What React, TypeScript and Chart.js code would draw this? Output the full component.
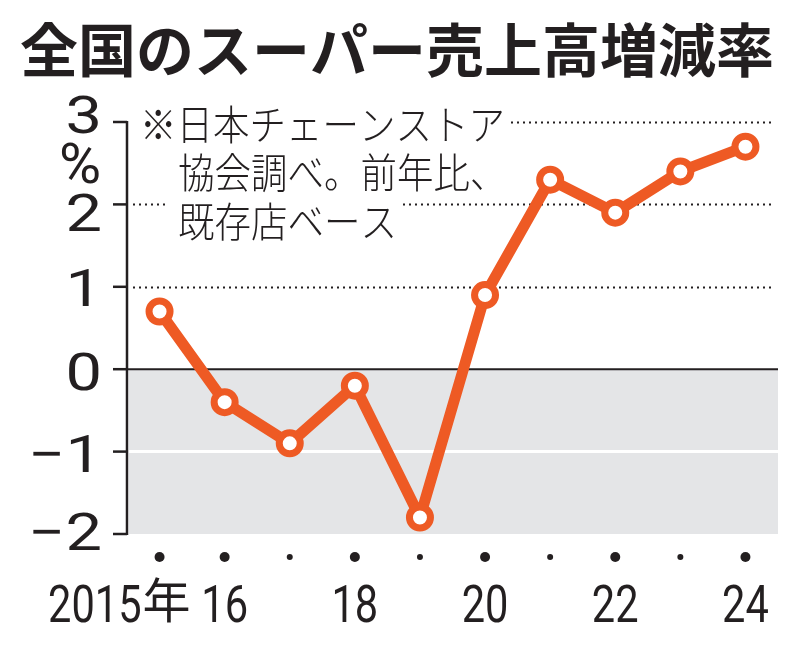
import React, { useEffect, useRef } from "react";
import { Chart, registerables } from "chart.js";

Chart.register(...registerables);

const years = ["2015", "2016", "2017", "2018", "2019", "2020", "2021", "2022", "2023", "2024"];
const values = [0.7, -0.4, -0.9, -0.2, -1.8, 0.9, 2.3, 1.9, 2.4, 2.7];
const xTickLabels = ["2015", "16", "", "18", "", "20", "", "22", "", "24"];
const xMajor = [true, true, false, true, false, true, false, true, false, true];
const yTicks = [3, 2, 1, 0, -1, -2];
const yTickLabels = ["3", "2", "1", "0", "−1", "−2"];
const dottedGrid = [1, 2, 3];
const titleText = "全国のスーパー売上高増減率";
const noteLines = ["※日本チェーンストア", "協会調べ。前年比、", "既存店ベース"];

const ORANGE = "#ee5a24";
const INK = "#231f20";
const GRAY = "#e4e5e7";

const drawPlugin = {
  id: "decor",
  beforeDatasetsDraw(chart: any) {
    const { ctx, chartArea, scales } = chart;
    const { left, right } = chartArea;
    const x = scales.x;
    const y = scales.y;
    const y0 = y.getPixelForValue(0);
    const yMin = y.getPixelForValue(-2);
    ctx.save();
    // gray negative area
    ctx.fillStyle = GRAY;
    ctx.fillRect(left + 2, y0, right - left - 2, yMin - y0);
    // white line at -1
    ctx.strokeStyle = "#ffffff";
    ctx.lineWidth = 3;
    ctx.beginPath();
    ctx.moveTo(left + 2, y.getPixelForValue(-1));
    ctx.lineTo(right, y.getPixelForValue(-1));
    ctx.stroke();
    // dotted grid
    ctx.strokeStyle = INK;
    ctx.lineWidth = 2;
    ctx.setLineDash([2, 4]);
    dottedGrid.forEach((v) => {
      const py = Math.round(y.getPixelForValue(v)) + 0.5;
      ctx.beginPath();
      ctx.moveTo(left + 6, py);
      ctx.lineTo(right - 3, py);
      ctx.stroke();
    });
    ctx.setLineDash([]);
    // zero line
    ctx.lineWidth = 2;
    ctx.beginPath();
    ctx.moveTo(left, y0);
    ctx.lineTo(right, y0);
    ctx.stroke();
    // axis + ticks
    ctx.lineWidth = 2.5;
    ctx.beginPath();
    ctx.moveTo(left, y.getPixelForValue(3) - 1);
    ctx.lineTo(left, yMin + 1);
    ctx.stroke();
    yTicks.forEach((v) => {
      const py = y.getPixelForValue(v);
      ctx.beginPath();
      ctx.moveTo(left - 14, py);
      ctx.lineTo(left, py);
      ctx.stroke();
    });
    // y labels
    ctx.fillStyle = INK;
    ctx.textAlign = "right";
    ctx.textBaseline = "alphabetic";
    const yOff = [11, 27, 19, 21, 20, 16];
    yTicks.forEach((v, i) => {
      const py = y.getPixelForValue(v) + yOff[i];
      ctx.save();
      ctx.translate(102, py);
      ctx.scale(1.25, 1);
      ctx.font = "400 52px Roboto, 'DejaVu Sans', sans-serif";
      ctx.fillText(yTickLabels[i], 0, 0);
      ctx.restore();
    });
    // percent sign
    ctx.save();
    ctx.textAlign = "center";
    ctx.translate(80, 183);
    ctx.scale(1.15, 1.12);
    ctx.font = "400 50px Roboto, 'DejaVu Sans', sans-serif";
    ctx.fillText("%", 0, 0);
    ctx.restore();

    // note with white backing
    const noteY = [124, 172, 221];
    const noteX = [140, 178, 178];
    ctx.font = "300 41px 'Noto Sans CJK JP', sans-serif";
    ctx.textAlign = "left";
    ctx.textBaseline = "middle";
    noteLines.forEach((t, i) => {
      const w = ctx.measureText(t).width * 0.89;
      ctx.fillStyle = "#ffffff";
      ctx.fillRect(noteX[i] - 10, noteY[i] - 22, w + 16, 44);
    });
    ctx.fillStyle = INK;
    noteLines.forEach((t, i) => {
      ctx.save();
      ctx.translate(noteX[i], noteY[i]);
      ctx.scale(0.89, 1);
      ctx.fillText(t, 0, 0);
      ctx.restore();
    });

    // x tick dots and labels
    years.forEach((_, i) => {
      const px = x.getPixelForValue(i);
      ctx.beginPath();
      ctx.arc(px, 557, xMajor[i] ? 5 : 3, 0, Math.PI * 2);
      ctx.fillStyle = INK;
      ctx.fill();
      const lab = xTickLabels[i];
      if (!lab) return;
      ctx.save();
      ctx.textBaseline = "alphabetic";
      if (i === 0) {
        ctx.font = "400 48px 'Noto Sans CJK JP', sans-serif";
        ctx.textAlign = "right";
        ctx.fillText("年", px + 31, 618);
        ctx.translate(px - 18, 622);
        ctx.scale(0.8, 1);
        ctx.font = "400 52px Roboto, sans-serif";
        ctx.textAlign = "right";
        ctx.fillText(lab, 0, 0);
      } else {
        ctx.translate(px, 622);
        ctx.scale(0.8, 1);
        ctx.font = "400 52px Roboto, sans-serif";
        ctx.textAlign = "center";
        ctx.fillText(lab, 0, 0);
      }
      ctx.restore();
    });

    // title
    ctx.fillStyle = INK;
    ctx.font = "700 58px 'Noto Sans CJK JP', sans-serif";
    ctx.textAlign = "left";
    ctx.textBaseline = "middle";
    ctx.fillText(titleText, 20, 50);
    ctx.restore();
  },
};

export default function App() {
  const ref = useRef<HTMLCanvasElement | null>(null);
  useEffect(() => {
    document.body.style.margin = "0";
    const canvas = ref.current;
    if (!canvas) return;
    const chart = new Chart(canvas, {
      type: "line",
      data: {
        labels: years,
        datasets: [
          {
            data: values,
            borderColor: ORANGE,
            borderWidth: 11,
            borderJoinStyle: "round",
            borderCapStyle: "round",
            pointRadius: 10.5,
            pointBorderWidth: 7,
            pointBackgroundColor: "#ffffff",
            pointBorderColor: ORANGE,
            tension: 0,
            clip: false as any,
          },
        ],
      },
      options: {
        animation: false,
        responsive: false,
        devicePixelRatio: 1,
        layout: { padding: { left: 127, right: 22, top: 122, bottom: 115 } },
        plugins: { legend: { display: false }, tooltip: { enabled: false } },
        events: [],
        scales: {
          x: { type: "category", display: false, offset: true },
          y: { type: "linear", display: false, min: -2, max: 3 },
        },
      },
      plugins: [drawPlugin],
    });
    return () => chart.destroy();
  }, []);
  return (
    <div style={{ position: "absolute", left: 0, top: 0, width: 800, height: 649, background: "#fff" }}>
      <canvas ref={ref} width={800} height={649} style={{ display: "block" }} />
    </div>
  );
}
